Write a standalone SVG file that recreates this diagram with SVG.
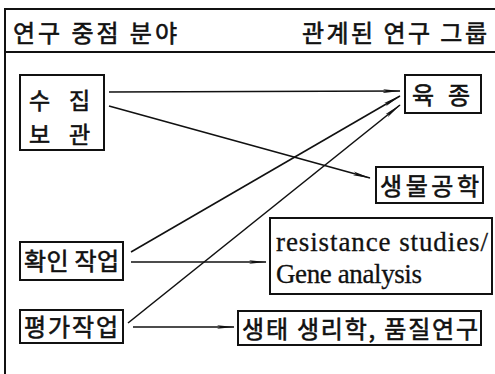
<svg xmlns="http://www.w3.org/2000/svg" width="495" height="374" viewBox="0 0 495 374">
<style>
.frame{fill:none;stroke:#111;stroke-width:2}
.box{fill:#fff;stroke:#111;stroke-width:2}
.kr{font-family:"Noto Sans CJK KR","Noto Sans",sans-serif;fill:#111;stroke:#111;stroke-width:0.6}
.en{font-family:"Liberation Serif","DejaVu Serif",serif;fill:#111;stroke:#111;stroke-width:0.3}
.conn{stroke:#111;stroke-width:1.6;fill:none;marker-end:url(#arr)}
</style>
<defs>
<marker id="arr" viewBox="0 0 24 8" refX="23" refY="4" markerWidth="18" markerHeight="6" markerUnits="userSpaceOnUse" orient="auto">
<path d="M0,1.5 L24,4 L0,6.5 L5,4 Z" fill="#111"/>
</marker>
</defs>
<g id="frame">
<path class="frame" d="M5,374 V9 H495"/>
<path class="frame" d="M5,52 H495"/>
<text class="kr" x="13" y="42" font-size="24" textLength="164" lengthAdjust="spacing">연구 중점 분야</text>
<text class="kr" x="302" y="42" font-size="24" textLength="185" lengthAdjust="spacing">관계된 연구 그룹</text>
</g>
<g id="connectors">
<line class="conn" x1="109" y1="92" x2="400" y2="91"/>
<line class="conn" x1="109" y1="106" x2="370" y2="178"/>
<line class="conn" x1="131" y1="252" x2="400" y2="96"/>
<line class="conn" x1="128" y1="323" x2="400" y2="105"/>
<line class="conn" x1="131" y1="262" x2="266" y2="262"/>
<line class="conn" x1="133" y1="327" x2="234" y2="327"/>
</g>
<g id="n-collect">
<rect class="box" x="20" y="75" width="84" height="75"/>
<text class="kr" x="29" y="109" font-size="23">수</text>
<text class="kr" x="69" y="109" font-size="23">집</text>
<text class="kr" x="29" y="143" font-size="23">보</text>
<text class="kr" x="69" y="143" font-size="23">관</text>
</g>
<g id="n-breed">
<rect class="box" x="405" y="75" width="76" height="38"/>
<text class="kr" x="412" y="104" font-size="24">육</text>
<text class="kr" x="448" y="104" font-size="24">종</text>
</g>
<g id="n-biotech">
<rect class="box" x="376" y="167" width="107" height="36"/>
<text class="kr" x="380" y="195" font-size="24" textLength="99" lengthAdjust="spacing">생물공학</text>
</g>
<g id="n-confirm">
<rect class="box" x="20" y="242" width="103" height="38"/>
<text class="kr" x="24" y="270" font-size="24" textLength="95" lengthAdjust="spacing">확인 작업</text>
</g>
<g id="n-resist">
<rect class="box" x="270" y="218" width="222" height="76"/>
<text class="en" x="276" y="251" font-size="27" textLength="212" lengthAdjust="spacing">resistance studies/</text>
<text class="en" x="276" y="283" font-size="27" textLength="146" lengthAdjust="spacing">Gene analysis</text>
</g>
<g id="n-eval">
<rect class="box" x="20" y="310" width="103" height="33"/>
<text class="kr" x="24" y="336" font-size="24" textLength="94" lengthAdjust="spacing">평가작업</text>
</g>
<g id="n-eco">
<rect class="box" x="238" y="311" width="243" height="34"/>
<text class="kr" x="242" y="338" font-size="24" textLength="236" lengthAdjust="spacing">생태 생리학, 품질연구</text>
</g>
</svg>
